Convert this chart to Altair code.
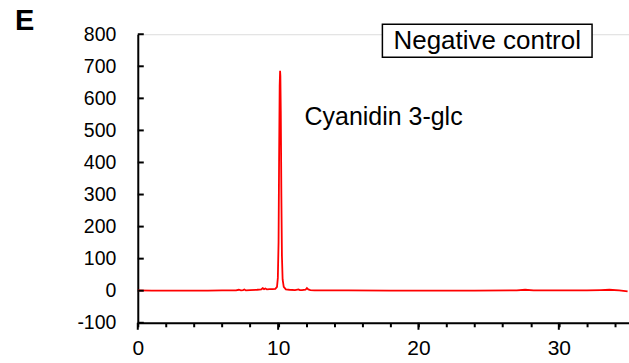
import altair as alt
import pandas as pd

# Retention time (min) and detector signal
time_min = [0, 1, 2, 3, 4, 5, 6, 7.0, 7.2, 7.35, 7.5, 7.6, 7.7, 8.0, 8.5, 8.8,
            8.9, 9.0, 9.1, 9.2, 9.4, 9.6, 9.8, 9.92, 9.98, 10.03, 10.07, 10.11,
            10.14, 10.16, 10.19, 10.23, 10.27, 10.32, 10.4, 10.55, 10.8, 11.2,
            11.45, 11.55, 11.7, 11.95, 12.05, 12.15, 12.3, 12.6, 13.5, 15, 18,
            20, 24, 27, 27.6, 28.2, 30, 32, 33, 33.6, 34.3, 34.9]
signal = [1, 0, 0, 0, 0, 0, 1, 1, 3, 1, 2, 4, 1, 2, 3, 4,
          8, 5, 7, 4, 5, 5, 6, 12, 40, 150, 420, 640,
          686, 670, 560, 300, 110, 35, 12, 4, 3, 2,
          4, 2, 2, 3, 8, 4, 2, 1, 1, 1, 0,
          0, 0, 1, 3, 1, 1, 1, 2, 3, 1, -2]

y_ticks = [-100, 0, 100, 200, 300, 400, 500, 600, 700, 800]
x_minor = list(range(0, 35, 2))
x_major = [0, 10, 20, 30]

peak_label = "Cyanidin 3-glc"
panel_title = "Negative control"
panel_letter = "E"

FONT = "Liberation Sans"

df = pd.DataFrame({"t": time_min, "s": signal})

xs = alt.Scale(domain=[0, 35], nice=False, zero=False)
ys = alt.Scale(domain=[-100, 800], nice=False, zero=False)

x_axis = alt.Axis(
    values=x_minor, tickSize=4, tickWidth=2, tickColor="black",
    domainColor="black", domainWidth=2, grid=False, title=None,
    labelFont=FONT, labelFontSize=21, labelColor="black", labelPadding=11,
    labelOverlap=False,
    labelExpr="datum.value % 10 === 0 ? '' + datum.value : ''", labelFlush=False)
y_axis = alt.Axis(
    values=y_ticks, tickSize=0, domainColor="black", domainWidth=2,
    grid=False, title=None, labelFont=FONT, labelFontSize=19.5,
    labelColor="black", labelPadding=22, labelFlush=False,
    labelOverlap=False, labelExpr="'' + datum.value")

line = alt.Chart(df).mark_line(color="#ff0000", strokeWidth=1.8, clip=True).encode(
    x=alt.X("t:Q", scale=xs, axis=x_axis),
    y=alt.Y("s:Q", scale=ys, axis=y_axis),
)

yt = alt.Chart(pd.DataFrame({"v": y_ticks})).mark_rule(color="black", strokeWidth=2).encode(
    y=alt.Y("v:Q", scale=ys, axis=y_axis), x=alt.value(0), x2=alt.value(6))

xt = alt.Chart(pd.DataFrame({"v": x_major})).mark_rule(color="black", strokeWidth=2).encode(
    x=alt.X("v:Q", scale=xs, axis=x_axis), y=alt.value(289), y2=alt.value(296))

one = alt.Data(values=[{"a": 1}])

peak_txt = alt.Chart(one).mark_text(
    text=peak_label, font=FONT, fontSize=25, align="left", baseline="alphabetic", color="black"
).encode(x=alt.value(167), y=alt.value(91))

box = alt.Chart(one).mark_rect(fill="white", stroke="black", strokeWidth=1.5).encode(
    x=alt.value(245), x2=alt.value(455), y=alt.value(-10), y2=alt.value(23))

box_txt = alt.Chart(one).mark_text(
    text=panel_title, font=FONT, fontSize=26, align="center", baseline="alphabetic", color="black"
).encode(x=alt.value(350), y=alt.value(15))

letter = alt.Chart(one).mark_text(
    text=panel_letter, font=FONT, fontSize=29, fontWeight="bold", align="left",
    baseline="alphabetic", color="black"
).encode(x=alt.value(-123), y=alt.value(-4))

chart = alt.layer(line, yt, xt, peak_txt, box, box_txt, letter).properties(
    width=492, height=289,
    autosize=alt.AutoSizeParams(type="none"),
    padding={"left": 138, "top": 34, "right": 0, "bottom": 40},
).configure_view(stroke=None).configure(background="white")

chart.save("out.html", embed_options={"renderer": "svg", "actions": False})
